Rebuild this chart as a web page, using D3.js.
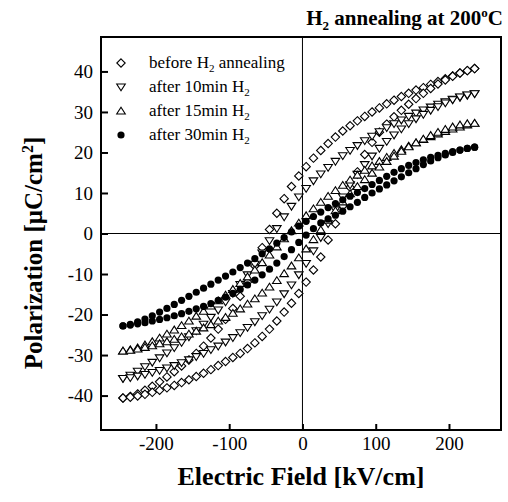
<!DOCTYPE html>
<html><head><meta charset="utf-8">
<script src="https://cdn.jsdelivr.net/npm/d3@7"></script>
<style>
body{margin:0;background:#fff}
text{font-family:"Liberation Serif","Times New Roman",serif;fill:#000}
</style>
</head><body>
<svg id="chart" width="508" height="502"></svg>
<script>
// Electric field sweep (kV/cm), shared by every branch
const field = [-245,-235,-225,-215,-205,-195,-185,-175,-165,-155,-145,-135,-125,-115,-105,-95,-85,-75,-65,-55,-45,-35,-25,-15,-5,5,15,25,35,45,55,65,75,85,95,105,115,125,135,145,155,165,175,185,195,205,215,225,235];

// Polarization (uC/cm2), upper (descending field) and lower (ascending field) branches, listed by field
const beforeUpper = [-40.6,-40.2,-39.6,-38.7,-37.7,-36.6,-35.4,-34.1,-32.7,-31.2,-29.6,-27.8,-25.8,-23.6,-21.2,-18.5,-15.5,-12.0,-8.0,-3.5,1.0,5.0,8.6,11.6,14.2,16.5,18.6,20.5,22.2,23.8,25.3,26.6,27.8,28.9,30.0,31.0,32.0,32.9,33.8,34.6,35.4,36.0,36.8,37.5,38.2,38.9,39.6,40.2,40.7];
const beforeLower = [-40.6,-40.4,-40.1,-39.7,-39.2,-38.7,-38.1,-37.5,-36.8,-36.1,-35.3,-34.5,-33.6,-32.6,-31.6,-30.6,-29.6,-28.4,-27.0,-25.4,-23.6,-21.6,-19.4,-17.2,-14.8,-12.0,-9.0,-5.8,-1.6,2.4,6.8,11.4,15.2,19.5,22.5,25.0,27.0,28.8,30.4,31.9,33.3,34.6,35.8,36.9,37.9,38.8,39.6,40.2,40.7];

const min10Upper = [-35.8,-35.0,-34.0,-32.9,-31.8,-30.7,-29.5,-28.2,-26.9,-25.5,-24.0,-22.4,-20.7,-18.9,-16.9,-14.8,-12.6,-10.2,-7.6,-4.8,-1.8,1.2,4.1,6.7,9.0,11.1,13.0,14.7,16.3,17.8,19.2,20.5,21.7,22.9,24.0,25.1,26.1,27.1,28.0,28.9,29.7,30.5,31.2,31.9,32.5,33.1,33.6,34.1,34.5];
const min10Lower = [-35.8,-35.6,-35.2,-34.8,-34.3,-33.8,-33.2,-32.6,-31.9,-31.2,-30.4,-29.6,-28.7,-27.8,-26.8,-25.7,-24.5,-23.2,-21.8,-20.3,-18.7,-16.9,-14.9,-12.7,-10.2,-7.4,-4.3,-1.0,2.4,5.8,9.0,12.0,14.6,17.0,19.1,21.0,22.7,24.3,25.8,27.1,28.3,29.4,30.4,31.3,32.2,33.0,33.7,34.2,34.5];

const min15Upper = [-29.0,-28.7,-28.2,-27.5,-26.7,-25.8,-24.8,-23.8,-22.7,-21.6,-20.4,-19.2,-17.9,-16.6,-15.2,-13.8,-12.3,-10.7,-9.0,-7.2,-5.3,-3.3,-1.3,0.7,2.6,4.4,6.1,7.7,9.2,10.6,11.9,13.2,14.4,15.6,16.7,17.8,18.8,19.8,20.7,21.6,22.4,23.2,23.9,24.6,25.2,25.8,26.3,26.8,27.2];
const min15Lower = [-29.0,-28.8,-28.5,-28.1,-27.7,-27.2,-26.7,-26.1,-25.5,-24.8,-24.1,-23.3,-22.5,-21.6,-20.7,-19.7,-18.6,-17.4,-16.1,-14.7,-13.2,-11.6,-9.9,-8.0,-6.0,-3.8,-1.5,0.9,3.3,5.6,7.8,9.8,11.6,13.3,14.9,16.4,17.8,19.1,20.3,21.4,22.4,23.3,24.2,25.0,25.7,26.3,26.8,27.1,27.2];

const min30Upper = [-22.8,-22.4,-21.8,-21.1,-20.3,-19.4,-18.5,-17.5,-16.5,-15.5,-14.5,-13.5,-12.5,-11.5,-10.5,-9.5,-8.4,-7.3,-6.2,-5.0,-3.8,-2.4,-1.0,0.4,1.8,3.0,4.2,5.3,6.4,7.4,8.3,9.2,10.1,11.1,12.1,13.1,14.1,15.1,16.0,16.8,17.5,18.2,18.8,19.3,19.8,20.2,20.6,21.0,21.3];
const min30Lower = [-22.8,-22.6,-22.3,-22.0,-21.6,-21.2,-20.8,-20.3,-19.8,-19.2,-18.6,-18.0,-17.3,-16.5,-15.7,-14.8,-13.8,-12.7,-11.5,-10.2,-8.8,-7.3,-5.7,-4.0,-2.2,-0.4,1.2,2.6,3.6,4.5,5.5,6.6,7.7,8.9,10.0,11.0,12.0,13.0,14.0,15.0,16.0,17.0,17.9,18.7,19.4,20.0,20.6,21.0,21.3];

const seriesNames = ["before", "10min", "15min", "30min"];
const xTicks = [-200,-100,0,100,200];
const yTicks = [-40,-30,-20,-10,0,10,20,30,40];

const series = [
  {name: seriesNames[0], shape: "diamond", upper: beforeUpper, lower: beforeLower},
  {name: seriesNames[1], shape: "tdown", upper: min10Upper, lower: min10Lower},
  {name: seriesNames[2], shape: "tup", upper: min15Upper, lower: min15Lower},
  {name: seriesNames[3], shape: "circle", upper: min30Upper, lower: min30Lower}
];

const svg = d3.select("#chart");
const L = 101, R = 501, T = 37, B = 430;
const x = d3.scaleLinear().domain([-275, 271]).range([L, R]);
const y = d3.scaleLinear().domain([-48.5, 48.5]).range([B, T]);

// zero lines
svg.append("line").attr("x1", x(0)).attr("x2", x(0)).attr("y1", T).attr("y2", B).attr("stroke", "#000").attr("stroke-width", 1);
svg.append("line").attr("x1", L).attr("x2", R).attr("y1", y(0)).attr("y2", y(0)).attr("stroke", "#000").attr("stroke-width", 1);

function symbolPath(shape) {
  if (shape === "diamond") return "M0,-4.2L4.2,0L0,4.2L-4.2,0Z";
  if (shape === "tdown") return "M-4.3,-3L4.3,-3L0,3.8Z";
  if (shape === "tup") return "M-4.3,3L4.3,3L0,-3.8Z";
  return null;
}
function drawMarker(g, shape, cx, cy) {
  if (shape === "circle") {
    g.append("circle").attr("cx", cx).attr("cy", cy).attr("r", 3.6).attr("fill", "#000");
  } else {
    g.append("path").attr("d", symbolPath(shape)).attr("transform", `translate(${cx},${cy})`)
      .attr("fill", "#fff").attr("stroke", "#000").attr("stroke-width", 1.1);
  }
}

const plot = svg.append("g");
series.forEach(s => {
  const g = plot.append("g");
  field.forEach((e, i) => {
    drawMarker(g, s.shape, x(e), y(s.upper[i]));
    drawMarker(g, s.shape, x(e), y(s.lower[i]));
  });
});

// frame
svg.append("rect").attr("x", L).attr("y", T).attr("width", R - L).attr("height", B - T)
  .attr("fill", "none").attr("stroke", "#000").attr("stroke-width", 2);

// axes with inward ticks
const xAxis = svg.append("g").attr("transform", `translate(0,${B})`)
  .call(d3.axisBottom(x).tickValues(xTicks).tickSizeInner(-6).tickSizeOuter(0).tickPadding(7).tickFormat(d => String(d)));
const yAxis = svg.append("g").attr("transform", `translate(${L},0)`)
  .call(d3.axisLeft(y).tickValues(yTicks).tickSizeInner(-7).tickSizeOuter(0).tickPadding(8).tickFormat(d => String(d)));
[xAxis, yAxis].forEach(a => {
  a.select(".domain").remove();
  a.selectAll(".tick line").attr("stroke", "#000").attr("stroke-width", 2);
  a.selectAll(".tick text").attr("font-size", 19).attr("font-family", "Liberation Serif");
});

// axis titles
svg.append("text").attr("x", 301).attr("y", 485).attr("text-anchor", "middle")
  .attr("font-size", 26).attr("font-weight", "bold").text("Electric Field [kV/cm]");
const yt = svg.append("text").attr("transform", "translate(42,253) rotate(-90)").attr("text-anchor", "middle")
  .attr("font-size", 25).attr("font-weight", "bold");
yt.append("tspan").text("Polarization [\u03bcC/cm");
yt.append("tspan").attr("dy", -9).attr("font-size", 16).text("2");
yt.append("tspan").attr("dy", 9).text("]");

// title
const tt = svg.append("text").attr("x", 503).attr("y", 25).attr("text-anchor", "end")
  .attr("font-size", 21).attr("font-weight", "bold");
tt.append("tspan").text("H");
tt.append("tspan").attr("dy", 5).attr("font-size", 13).text("2");
tt.append("tspan").attr("dy", -5).text(" annealing at 200");
tt.append("tspan").attr("dy", -8).attr("font-size", 13).text("o");
tt.append("tspan").attr("dy", 8).text("C");

// legend
const legendLabels = [
  ["before H", "2", " annealing"],
  ["after 10min H", "2", ""],
  ["after 15min H", "2", ""],
  ["after 30min H", "2", ""]
];
const lg = svg.append("g");
series.forEach((s, i) => {
  const cy = 63 + i * 24;
  drawMarker(lg, s.shape, 121, cy);
  const t = lg.append("text").attr("x", 149).attr("y", cy + 5).attr("font-size", 17);
  t.append("tspan").text(legendLabels[i][0]);
  t.append("tspan").attr("dy", 4).attr("font-size", 11).text(legendLabels[i][1]);
  t.append("tspan").attr("dy", -4).text(legendLabels[i][2]);
});
</script>
</body></html>
